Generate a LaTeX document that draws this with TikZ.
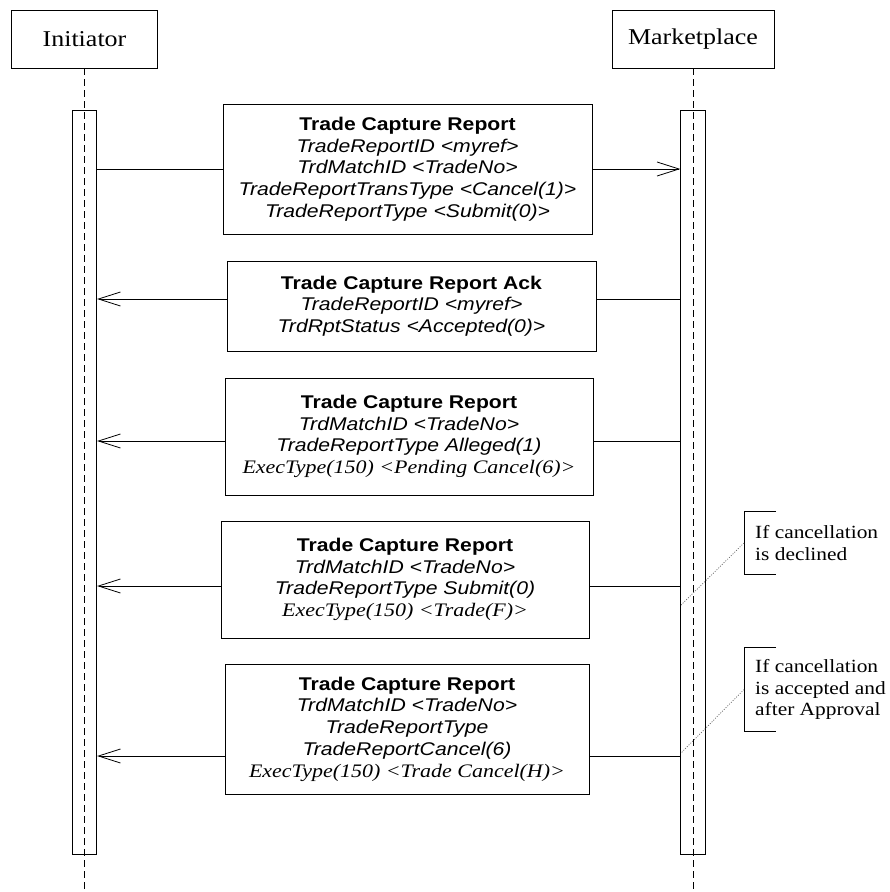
\documentclass[tikz,border=0pt]{standalone}
\usepackage{fontspec}
\setmainfont{Liberation Serif}
\newfontfamily\msgsans{Liberation Sans}[FakeStretch=1.15]
\newfontfamily\msgserif{Liberation Serif}[FakeStretch=1.15]
\usetikzlibrary{arrows.meta}
\newcommand{\exline}[1]{{\msgserif\itshape\fontsize{19.1}{21.7}\selectfont #1}}
\begin{document}
\begin{tikzpicture}[x=1pt,y=-1pt,
  actor/.style={draw, line width=0.8pt, minimum height=58pt, inner sep=0pt,
    font=\msgserif\fontsize{22.6}{24}\selectfont},
  actbar/.style={draw, line width=0.8pt, minimum width=24.5pt, minimum height=744pt, inner sep=0pt},
  msg/.style={draw, line width=0.8pt, inner sep=0pt, align=center,
    font=\msgsans\fontsize{18.4}{21.7}\selectfont},
  life/.style={line width=0.8pt, dash pattern=on 7pt off 4pt},
  call/.style={line width=0.8pt},
  ret/.style={line width=0.8pt, -{Straight Barb[length=22pt,width=14pt]}},
  note/.style={inner xsep=11pt, inner ysep=0pt, align=left, anchor=west,
    font=\msgserif\fontsize{18.6}{21.5}\selectfont},
  bracket/.style={line width=0.8pt},
  link/.style={dash pattern=on 1pt off 1.5pt, black!60, line width=0.7pt}]

\useasboundingbox (0,0) rectangle (890,892);

% actors
\node[actor, minimum width=146pt] (init) at (84.5,39) {Initiator};
\node[actor, minimum width=162pt] (mkt) at (693,39) {Marketplace};

% activation bars
\node[actbar] (ia) at (84.5,482) {};
\node[actbar] (ma) at (693,482) {};

% lifelines
\coordinate (iend) at (84.5,892);
\coordinate (mend) at (693,892);
\draw[life] (init.south) -- (iend);
\draw[life] (mkt.south) -- (mend);

% message boxes
\node[msg, minimum width=369pt, minimum height=130pt] (b1) at (407.5,169)
  {\textbf{Trade Capture Report}\\
   \textit{TradeReportID <myref>}\\
   \textit{TrdMatchID <TradeNo>}\\
   \textit{TradeReportTransType <Cancel(1)>}\\
   \textit{TradeReportType <Submit(0)>}};
\node[msg, minimum width=369pt, minimum height=90pt] (b2) at (411.5,306)
  {\textbf{Trade Capture Report Ack}\\
   \textit{TradeReportID <myref>}\\
   \textit{TrdRptStatus <Accepted(0)>}};
\node[msg, minimum width=368pt, minimum height=117pt] (b3) at (409,436.5)
  {\textbf{Trade Capture Report}\\
   \textit{TrdMatchID <TradeNo>}\\
   \textit{TradeReportType Alleged(1)}\\
   \exline{ExecType(150) <Pending Cancel(6)>}};
\node[msg, minimum width=368pt, minimum height=117pt] (b4) at (405,579.5)
  {\textbf{Trade Capture Report}\\
   \textit{TrdMatchID <TradeNo>}\\
   \textit{TradeReportType Submit(0)}\\
   \exline{ExecType(150) <Trade(F)>}};
\node[msg, minimum width=364pt, minimum height=130pt] (b5) at (407,729)
  {\textbf{Trade Capture Report}\\
   \textit{TrdMatchID <TradeNo>}\\
   \textit{TradeReportType}\\
   \textit{TradeReportCancel(6)}\\
   \exline{ExecType(150) <Trade Cancel(H)>}};

% message levels
\coordinate (m1) at (0,169);
\coordinate (m2) at (0,299);
\coordinate (m3) at (0,441);
\coordinate (m4) at (0,586);
\coordinate (m5) at (0,756);

% messages
\draw[call] (ia.east |- m1) -- (b1.west |- m1);
\draw[ret]  (b1.east |- m1) -- (ma.west |- m1);
\draw[call] (ma.west |- m2) -- (b2.east |- m2);
\draw[ret]  (b2.west |- m2) -- (ia.east |- m2);
\draw[call] (ma.west |- m3) -- (b3.east |- m3);
\draw[ret]  (b3.west |- m3) -- (ia.east |- m3);
\draw[call] (ma.west |- m4) -- (b4.east |- m4);
\draw[ret]  (b4.west |- m4) -- (ia.east |- m4);
\draw[call] (ma.west |- m5) -- (b5.east |- m5);
\draw[ret]  (b5.west |- m5) -- (ia.east |- m5);

% notes
\node[note, minimum height=62pt] (n1) at (744,543) {If cancellation\\is declined};
\node[note, minimum height=83pt] (n2) at (744,689.5) {If cancellation\\is accepted and\\after Approval};
\draw[bracket] ([xshift=32pt]n1.north west) -- (n1.north west) -- (n1.south west) -- ([xshift=32pt]n1.south west);
\draw[bracket] ([xshift=32pt]n2.north west) -- (n2.north west) -- (n2.south west) -- ([xshift=32pt]n2.south west);
\coordinate (d1) at (681,605);
\coordinate (d2) at (681,753);
\draw[link] (n1.west) -- (d1);
\draw[link] (n2.west) -- (d2);
\end{tikzpicture}
\end{document}
